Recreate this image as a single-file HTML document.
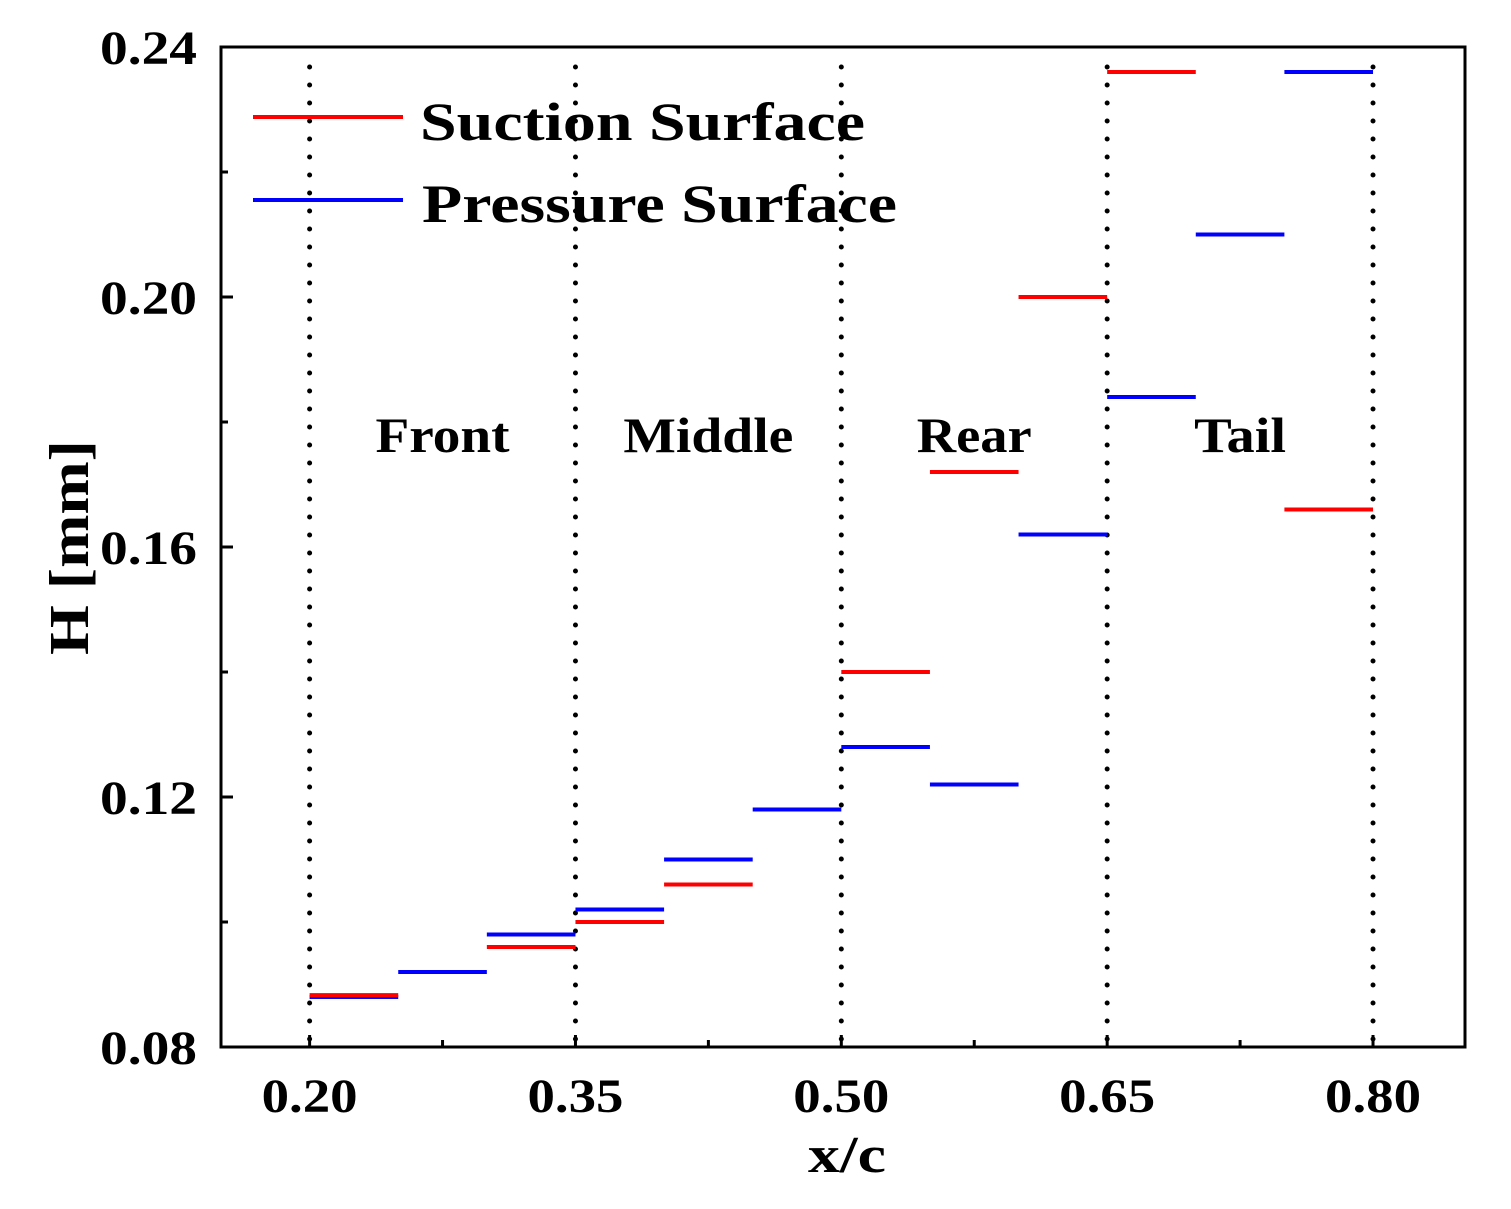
<!DOCTYPE html>
<html><head><meta charset="utf-8"><style>
html,body{margin:0;padding:0;background:#fff}
svg{display:block;font-family:"Liberation Serif",serif;font-weight:bold}
</style></head><body>
<svg id="chart" width="1511" height="1209" viewBox="0 0 1511 1209">
<g id="grid"></g><g id="marks"></g><g id="axes"></g>
<g>
<line x1="253" y1="117" x2="403" y2="117" stroke="#ff0000" stroke-width="4"/>
<text x="420" y="140" font-size="54" textLength="445" lengthAdjust="spacingAndGlyphs">Suction Surface</text>
<line x1="253" y1="200" x2="403" y2="200" stroke="#0000ff" stroke-width="4"/>
<text x="422" y="222" font-size="54" textLength="475" lengthAdjust="spacingAndGlyphs">Pressure Surface</text>
</g>
<text x="808" y="1172" font-size="52" textLength="78" lengthAdjust="spacingAndGlyphs">x/c</text>
<text transform="translate(88,655) rotate(-90)" font-size="56" textLength="215" lengthAdjust="spacingAndGlyphs">H [mm]</text>
</svg>
<script>
const xStarts=[0.20,0.25,0.30,0.35,0.40,0.45,0.50,0.55,0.60,0.65,0.70,0.75];
const suction=[0.0883,null,0.096,0.100,0.106,null,0.140,0.172,0.200,0.236,null,0.166];
const pressure=[0.0880,0.092,0.098,0.102,0.110,0.118,0.128,0.122,0.162,0.184,0.210,0.236];
const xTicks=[0.20,0.35,0.50,0.65,0.80];
const xTickLabels=["0.20","0.35","0.50","0.65","0.80"];
const yTicks=[0.08,0.12,0.16,0.20,0.24];
const yTickLabels=["0.08","0.12","0.16","0.20","0.24"];
const regions=["Front","Middle","Rear","Tail"];
const regionWidths=[134,170,115,92];
const L=221,R=1465,T=47,B=1047;
const X0=0.15,X1=0.8519,Y0=0.08,Y1=0.24;
const sx=v=>L+(v-X0)/(X1-X0)*(R-L);
const sy=v=>B-(v-Y0)/(Y1-Y0)*(B-T);
const NS="http://www.w3.org/2000/svg";
function mk(tag,attrs,parent,text){const e=document.createElementNS(NS,tag);for(const k in attrs)e.setAttribute(k,attrs[k]);if(text!==undefined)e.textContent=text;parent.appendChild(e);return e;}
const grid=document.getElementById('grid'),marks=document.getElementById('marks'),axes=document.getElementById('axes');
xTicks.forEach((v,i)=>{
 const el=mk('line',{x1:sx(v),x2:sx(v),y1:T+20,y2:B,stroke:'#000','stroke-width':5,'stroke-dasharray':'0 18','stroke-linecap':'round'},grid);
 
 
});
regions.forEach((r,i)=>{
 const cx=(sx(xTicks[i])+sx(xTicks[i+1]))/2;
 const el=mk('text',{x:cx-regionWidths[i]/2,y:452,'font-size':50,textLength:regionWidths[i],lengthAdjust:'spacingAndGlyphs'},grid,r);
 
 
});
function series(vals,color,name){
 vals.forEach((v,i)=>{ if(v===null)return;
  const el=mk('line',{x1:sx(xStarts[i]),x2:sx(xStarts[i]+0.05),y1:sy(v),y2:sy(v),stroke:color,'stroke-width':4},marks);
  
  
 });
}
series(pressure,'#0000ff','pressure');
series(suction,'#ff0000','suction');
const frame=mk('rect',{x:L,y:T,width:R-L,height:B-T,fill:'none',stroke:'#000','stroke-width':3},axes);


xTicks.forEach((v,i)=>{
 mk('line',{x1:sx(v),x2:sx(v),y1:B,y2:B-12,stroke:'#000','stroke-width':3},axes);
 if(i<xTicks.length-1){const m=v+0.075;mk('line',{x1:sx(m),x2:sx(m),y1:B,y2:B-7,stroke:'#000','stroke-width':3},axes);}
 const t=mk('text',{x:sx(v)-48,y:1112,'font-size':48,textLength:96,lengthAdjust:'spacingAndGlyphs'},axes,xTickLabels[i]);
 
 
});
yTicks.forEach((v,i)=>{
 mk('line',{x1:L,x2:L+12,y1:sy(v),y2:sy(v),stroke:'#000','stroke-width':3},axes);
 if(i<yTicks.length-1){const m=v+0.02;mk('line',{x1:L,x2:L+7,y1:sy(m),y2:sy(m),stroke:'#000','stroke-width':3},axes);}
 const t=mk('text',{x:100,y:sy(v)+17,'font-size':48,textLength:97,lengthAdjust:'spacingAndGlyphs'},axes,yTickLabels[i]);
 
 
});
</script>
</body></html>
